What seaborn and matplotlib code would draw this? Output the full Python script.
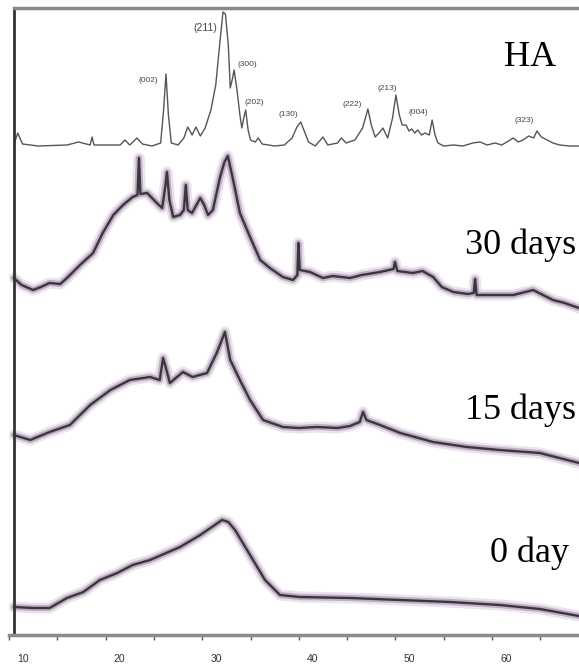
import numpy as np
import pandas as pd
import matplotlib
matplotlib.use("Agg")
import matplotlib.pyplot as plt
import matplotlib.transforms as mtransforms
import seaborn as sns

# ---------------- data (2theta in degrees, intensity in arbitrary units) -------------
ha_2theta = [10.5, 10.9, 11.4, 13.0, 16.0, 17.2, 18.4, 18.6, 18.8, 19.5, 21.5, 22.0, 22.5, 23.25, 23.8,
             24.8, 25.7, 26.0, 26.25, 26.5, 26.8, 27.5, 28.1, 28.5, 28.95, 29.35, 29.8, 30.3, 30.9,
             31.4, 31.8, 32.15, 32.4, 32.7, 32.9, 33.1, 33.3, 33.6, 33.9, 34.1, 34.3, 34.5, 34.75,
             35.0, 35.5, 35.8, 36.2, 37.5, 38.5, 39.3, 39.8, 40.2, 40.6, 41.0, 41.7, 42.5, 43.0,
             44.0, 44.4, 44.9, 45.8, 46.6, 47.15, 47.5, 47.9, 48.4, 48.7, 49.2, 49.7, 50.05, 50.4,
             50.7, 51.1, 51.4, 51.7, 52.0, 52.3, 52.7, 53.05, 53.5, 53.8, 54.1, 54.4, 55.0, 56.0,
             57.0, 58.0, 58.75, 59.5, 60.3, 61.0, 61.7, 62.2, 62.7, 63.2, 63.8, 64.3, 64.65, 65.1,
             65.7, 66.3, 67.0, 68.0, 69.0]
ha_int = [490, 502, 491, 489, 490, 493, 490, 498, 490, 490, 490, 495, 490, 497, 491,
          489, 492, 525, 561, 520, 492, 490, 497, 508, 500, 508, 499, 507, 525,
          550, 590, 623, 621, 590, 547, 555, 565, 545, 520, 507, 517, 525, 505,
          495, 493, 497, 491, 489, 490, 497, 508, 513, 503, 493, 489, 498, 490,
          492, 497, 492, 495, 507, 526, 510, 498, 503, 507, 497, 517, 540, 520,
          510, 510, 504, 506, 502, 505, 500, 502, 500, 515, 500, 492, 489, 490,
          489, 492, 493, 490, 492, 490, 494, 497, 493, 495, 499, 497, 504, 498,
          495, 492, 490, 489, 489]

d30_2theta = [10.5, 11.3, 12.5, 13.3, 14.2, 15.3, 16.0, 17.35, 18.7, 19.7, 20.8, 21.8, 22.8, 23.3,
              23.45, 23.6, 24.3, 25.3, 25.85, 26.2, 26.35, 26.6, 27.0, 27.7, 28.1, 28.3, 28.5,
              28.95, 29.4, 29.8, 30.2, 30.6, 31.1, 31.85, 32.3, 32.65, 33.2, 33.9, 34.95, 36.0,
              37.0, 38.35, 39.4, 39.85, 39.95, 40.1, 41.15, 42.5, 43.5, 45.3, 46.5, 48.4, 49.8,
              49.95, 50.2, 51.8, 52.8, 53.9, 54.8, 56.0, 57.5, 58.1, 58.25, 58.4, 60.8, 62.2,
              64.25, 66.3, 67.5, 69.0]
d30_int = [357, 350, 345, 348, 352, 351, 357, 370, 382, 402, 420, 430, 438, 440,
           477, 441, 442, 432, 427, 450, 463, 435, 418, 420, 425, 450, 425,
           422, 430, 437, 430, 420, 425, 458, 473, 479, 455, 422, 398, 375,
           367, 358, 355, 360, 392, 365, 363, 357, 359, 357, 360, 363, 366,
           373, 364, 362, 364, 358, 348, 343, 341, 342, 356, 340, 340, 340,
           345, 335, 332, 327]

d15_2theta = [10.5, 12.2, 14.2, 16.3, 18.4, 20.5, 22.5, 24.6, 25.6, 25.95, 26.3, 26.65, 28.0, 29.0,
              30.5, 31.5, 32.35, 32.9, 33.9, 34.95, 36.3, 38.35, 40.0, 41.9, 44.0, 45.3, 46.3,
              46.65, 47.0, 48.4, 50.5, 53.9, 57.4, 60.8, 64.95, 69.0]
d15_int = [200, 195, 203, 210, 230, 245, 255, 258, 255, 277, 265, 252, 263, 258,
           262, 282, 303, 275, 255, 235, 215, 208, 207, 208, 207, 209, 213,
           223, 215, 210, 202, 193, 188, 185, 182, 172]

d0_2theta = [10.5, 12.5, 14.2, 16.0, 17.7, 19.4, 21.2, 22.8, 24.6, 27.7, 29.8, 31.3, 32.05, 32.7,
             33.4, 34.95, 36.5, 38.05, 40.1, 45.3, 50.5, 55.65, 60.8, 64.95, 69.0]
d0_int = [28, 27, 27, 37, 43, 55, 62, 70, 75, 88, 100, 110, 115, 113,
          105, 80, 55, 40, 38, 37, 35, 33, 30, 26, 19]

peak_labels = ["(211)", "(002)", "(300)", "(202)", "(130)", "(222)", "(213)", "(004)", "(323)"]
peak_label_x = [30.3, 24.4, 34.65, 35.35, 38.9, 45.5, 49.15, 52.35, 63.3]
peak_label_y = [607, 555, 570, 532, 520, 530, 546, 523, 514]

series_names = ["HA", "30 days", "15 days", "0 day"]
series_label_x = [63.95, 62.9, 62.95, 63.9]
series_label_y = [578, 390, 225, 82]

x_major = [10, 20, 30, 40, 50, 60]
x_minor = [15, 25, 35, 45, 55, 65]

# ---------------- figure -------------
sns.set_style("white")
plt.rcParams["font.family"] = ["Liberation Sans Narrow", "Liberation Sans", "DejaVu Sans"]

fig = plt.figure(figsize=(5.79, 6.65), dpi=100)
ax = fig.add_axes([9 / 579, 30 / 665, 570 / 579, 627 / 665])

ha_df = pd.DataFrame({"two_theta": ha_2theta, "intensity": ha_int})
sns.lineplot(data=ha_df, x="two_theta", y="intensity", ax=ax, color="#555555",
             linewidth=1.0, sort=False, estimator=None)

for xs, ys in [(d30_2theta, d30_int), (d15_2theta, d15_int), (d0_2theta, d0_int)]:
    df = pd.DataFrame({"two_theta": xs, "intensity": ys})
    sns.lineplot(data=df, x="two_theta", y="intensity", ax=ax, color="#eee2f0",
                 linewidth=8, sort=False, estimator=None)
    sns.lineplot(data=df, x="two_theta", y="intensity", ax=ax, color="#a495a9",
                 linewidth=4.5, sort=False, estimator=None, alpha=0.65)
    sns.lineplot(data=df, x="two_theta", y="intensity", ax=ax, color="#3a363c",
                 linewidth=1.7, sort=False, estimator=None)

for lab, lx, ly in zip(peak_labels, peak_label_x, peak_label_y):
    ax.text(lx, ly, lab, ha="center", va="center", color="#444444",
            fontsize=7.5 if lab == "(211)" else 6)

for name, lx, ly in zip(series_names, series_label_x, series_label_y):
    ax.text(lx, ly, name, ha="center", va="center", color="black",
            fontsize=26, family=["Liberation Serif", "DejaVu Serif"])

ax.set_xlim(10, 69)
ax.set_ylim(0, 627)
ax.set_xlabel("")
ax.set_ylabel("")
ax.set_yticks([])
ax.set_xticks(x_major)
ax.set_xticks(x_minor, minor=True)
ax.set_xticklabels([str(v) for v in x_major])
ax.tick_params(axis="x", which="both", direction="out", length=3.5, width=1,
               color="#555555", pad=10, labelsize=7.5, labelcolor="#333333", bottom=True)

offset = mtransforms.ScaledTranslation(0.14, 0, fig.dpi_scale_trans)
for lbl in ax.get_xticklabels():
    lbl.set_transform(lbl.get_transform() + offset)

ax.spines["right"].set_visible(False)
ax.spines["bottom"].set_color("#8a8a8a")
ax.spines["bottom"].set_linewidth(2.5)
ax.spines["top"].set_color("#8a8a8a")
ax.spines["top"].set_linewidth(2.5)
ax.spines["top"].set_bounds(10.5, 69)
ax.spines["left"].set_position(("data", 10.5))
ax.spines["left"].set_color("#333333")
ax.spines["left"].set_linewidth(2)
ax.spines["left"].set_bounds(3, 627)

fig.savefig("out.png", dpi=100)
